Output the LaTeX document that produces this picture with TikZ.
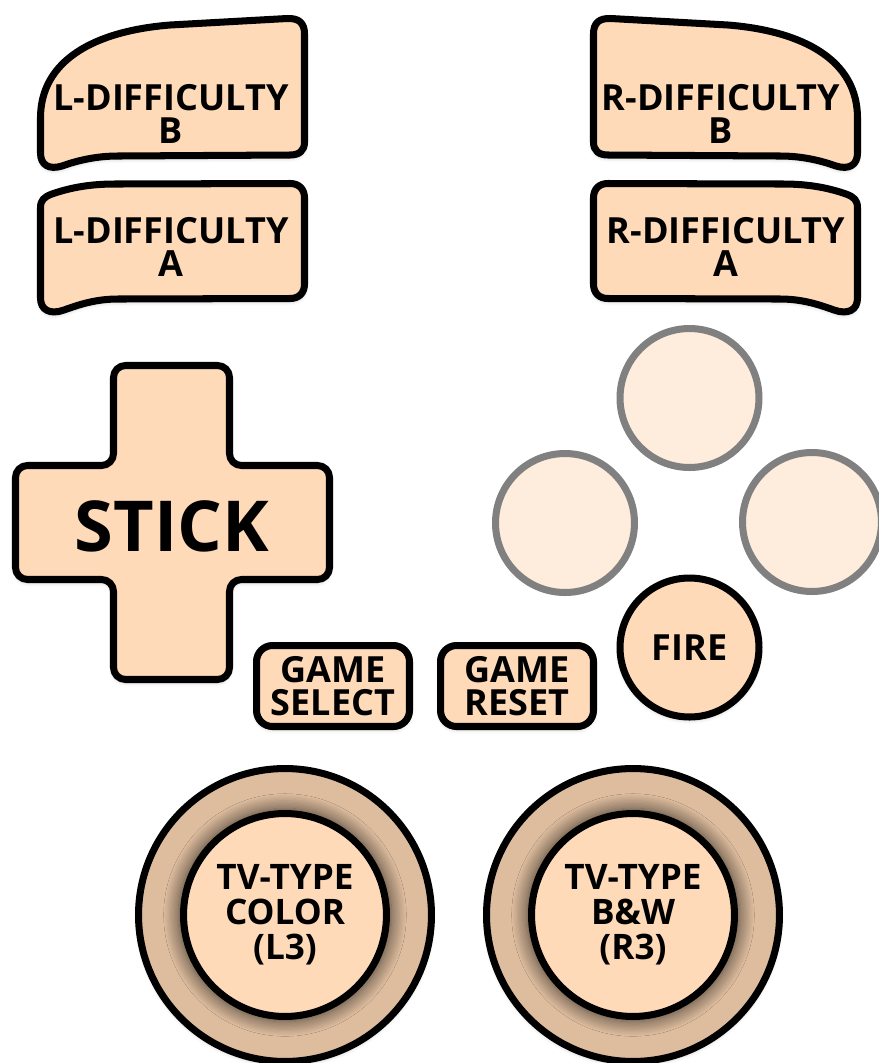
\documentclass[tikz,border=0pt]{standalone}
\usepackage{fontspec}
\setmainfont{Open Sans}
\usepackage{tikz}
\usetikzlibrary{positioning, shadows.blur}
\definecolor{peach}{RGB}{255,218,185}
\definecolor{paleface}{RGB}{254,236,220}
\definecolor{ringtan}{RGB}{222,189,158}
\tikzset{
  softshadow/.style={
    blur shadow={shadow xshift=0pt, shadow yshift=-1.5pt,
      shadow blur radius=2.5pt, shadow opacity=25}
  },
  pad/.style={
    draw=black, line width=4pt, fill=peach, line join=round,
    softshadow
  },
  padtext/.style={
    font=\fontsize{20.5}{18.5}\selectfont\bfseries,
    align=center, inner sep=0pt
  },
  facebtn/.style={
    circle, draw=gray, line width=4pt, fill=paleface,
    minimum size=2.78cm
  },
  firebtn/.style={
    circle, pad, minimum size=2.78cm, padtext
  },
  gamebtn/.style={
    rectangle, rounded corners=0.32cm, pad,
    minimum width=3.06cm, minimum height=1.62cm, padtext
  },
  ringbtn/.style={
    circle, draw=black, line width=4pt, fill=ringtan,
    minimum size=5.86cm, softshadow
  },
  thumbbtn/.style={
    circle, draw=black, line width=4pt, fill=peach,
    minimum size=4.06cm, padtext,
    font=\fontsize{20}{20}\selectfont\bfseries,
    blur shadow={shadow xshift=0pt, shadow yshift=0pt,
      shadow scale=1.05, shadow blur radius=8pt, shadow blur steps=12,
      shadow opacity=70}
  }
}

\begin{document}
\begin{tikzpicture}[x=0.02cm, y=-0.02cm]
  \useasboundingbox (0,0) rectangle (879,1063);

  % difficulty switches, left side and its mirror image
  \foreach \side in {1,-1}{
    \begin{scope}[shift={(449-449*\side,0)}, xscale=\side]
      \draw[pad] (40.5,118) .. controls (40.5,60) and (95,31) .. (170,25)
        -- (287,18.5) .. controls (299,18) and (304.5,23) .. (304.5,34)
        -- (304.5,142) .. controls (304.5,151) and (299,155) .. (290,155)
        -- (118,156) .. controls (95,156) and (76,161) .. (62,166)
        .. controls (49,170) and (40.5,165) .. (40.5,153) -- cycle;
      \draw[pad] (40.5,208) .. controls (40.5,200) and (44,197) .. (52,194)
        .. controls (72,187) and (92,184) .. (115,184)
        -- (290,183.5) .. controls (299,183.5) and (304.5,189) .. (304.5,198)
        -- (304.5,284) .. controls (304.5,293) and (299,298.5) .. (290,298.5)
        -- (118,299) .. controls (95,299) and (78,305) .. (64,310)
        .. controls (50,315) and (40.5,310) .. (40.5,298) -- cycle;
    \end{scope}
  }
  \node[padtext] (ldiffb) at (171,114) {L-DIFFICULTY\\B};
  \node[padtext] (ldiffa) at (171,247) {L-DIFFICULTY\\A};
  \node[padtext] (rdiffb) at (721,114) {R-DIFFICULTY\\B};
  \node[padtext] (rdiffa) at (726,247) {R-DIFFICULTY\\A};

  % joystick cross
  \draw[pad, rounded corners=0.24cm] (113.5,365.5) -- (229.5,365.5)
    -- (229.5,465.5) -- (329.5,465.5) -- (329.5,579.5) -- (229.5,579.5)
    -- (229.5,679.5) -- (113.5,679.5) -- (113.5,579.5) -- (15.5,579.5)
    -- (15.5,465.5) -- (113.5,465.5) -- cycle;
  \node[padtext, font=\fontsize{40}{42}\selectfont\bfseries] (stick) at (172,526) {STICK};

  % face buttons
  \node[facebtn] (north) at (689.5,398) {};
  \node[facebtn] (west) at (565,523) {};
  \node[facebtn] (east) at (812,522) {};
  \node[firebtn] (fire) at (689.5,647.5) {FIRE};

  % console switches
  \node[gamebtn] (select) at (333,686) {GAME\\SELECT};
  \node[gamebtn] (reset) at (517,686) {GAME\\RESET};

  % thumb sticks
  \node[ringbtn] (lring) at (285,915) {};
  \node[thumbbtn] (lthumb) at (lring.center) {TV-TYPE\\COLOR\\(L3)};
  \node[ringbtn] (rring) at (633,915) {};
  \node[thumbbtn] (rthumb) at (rring.center) {TV-TYPE\\B\&W\\(R3)};
\end{tikzpicture}
\end{document}
